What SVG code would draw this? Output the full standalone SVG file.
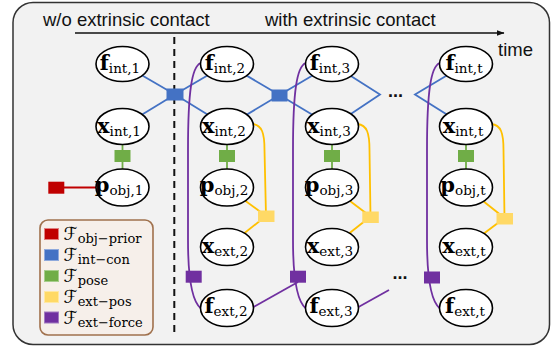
<svg xmlns="http://www.w3.org/2000/svg" width="553" height="349" viewBox="0 0 553 349">
  <defs>
    <marker id="arrowhead" viewBox="0 0 8 6" refX="7.5" refY="3" markerWidth="8" markerHeight="6" markerUnits="userSpaceOnUse" orient="auto">
      <path d="M0,0 L8,3 L0,6 Z" fill="#111"/>
    </marker>
  </defs>
  <style>
    .frame { fill: #f2f2f2; stroke: #333; stroke-width: 1.5; }
    .title { font-family: "Liberation Sans", Arial, sans-serif; font-size: 18.5px; fill: #111; }
    .dots { font-family: "Liberation Sans", Arial, sans-serif; font-size: 18px; font-weight: bold; fill: #111; text-anchor: middle; }
    .var ellipse { fill: #fff; stroke: #000; stroke-width: 1.6; }
    .lbl { font-family: "DejaVu Serif", "Liberation Serif", serif; text-anchor: middle; fill: #000; }
    .v { font-weight: bold; font-size: 21px; }
    .s { font-size: 13.5px; }
    .e-blue { stroke: #4472c4; stroke-width: 1.8; fill: none; }
    .e-green { stroke: #70ad47; stroke-width: 1.8; fill: none; }
    .e-red { stroke: #c00000; stroke-width: 1.8; fill: none; }
    .e-yellow { stroke: #ffc000; stroke-width: 1.8; fill: none; }
    .e-purple { stroke: #7030a0; stroke-width: 1.8; fill: none; }
    .f-blue { fill: #4472c4; }
    .f-green { fill: #70ad47; }
    .f-red { fill: #c00000; }
    .f-yellow { fill: #ffd966; }
    .f-purple { fill: #7030a0; }
    .legend-box { fill: #f6efea; stroke: #a0714d; stroke-width: 1.6; }
    .legend-sq { stroke-width: 1; }
    .legend-F { font-family: "DejaVu Serif", "DejaVu Sans", serif; font-size: 18px; fill: #000; }
    .legend-s { font-family: "DejaVu Serif", serif; font-size: 13px; }
  </style>

  <!-- outer panel -->
  <rect class="frame" x="13" y="2.5" width="536.5" height="342" rx="20" ry="20"/>

  <!-- headings and time axis -->
  <text class="title" x="43" y="26">w/o extrinsic contact</text>
  <text class="title" x="265" y="26">with extrinsic contact</text>
  <line x1="75" y1="33" x2="504" y2="33" stroke="#111" stroke-width="1.4" marker-end="url(#arrowhead)"/>
  <text class="title" x="498" y="56">time</text>

  <!-- boundary between phases -->
  <line x1="174.3" y1="37" x2="174.3" y2="334" stroke="#111" stroke-width="2" stroke-dasharray="7,5"/>

  <!-- connectors -->
  <g id="connectors">
    <!-- interaction consistency -->
    <line class="e-blue" x1="122.5" y1="64" x2="175" y2="94.5"/>
    <line class="e-blue" x1="122.5" y1="126.5" x2="175" y2="94.5"/>
    <line class="e-blue" x1="175" y1="94.5" x2="227" y2="64"/>
    <line class="e-blue" x1="175" y1="94.5" x2="227" y2="126.5"/>
    <line class="e-blue" x1="227" y1="64" x2="279.5" y2="95"/>
    <line class="e-blue" x1="227" y1="126.5" x2="279.5" y2="95"/>
    <line class="e-blue" x1="279.5" y1="95" x2="332" y2="64"/>
    <line class="e-blue" x1="279.5" y1="95" x2="332" y2="126.5"/>
    <polyline class="e-blue" points="332,64 380,94.5 332,126.5"/>
    <polyline class="e-blue" points="466,64 415,94.5 466,126.5"/>

    <!-- pose -->
    <line class="e-green" x1="122.5" y1="126.5" x2="122.5" y2="187.5"/>
    <line class="e-green" x1="227" y1="126.5" x2="227" y2="187.5"/>
    <line class="e-green" x1="332" y1="126.5" x2="332" y2="187.5"/>
    <line class="e-green" x1="466" y1="126.5" x2="466" y2="187.5"/>

    <!-- object prior -->
    <line class="e-red" x1="56" y1="187.5" x2="122.5" y2="187.5"/>

    <!-- extrinsic position -->
    <path class="e-yellow" d="M252.5,124 C262,125 264.5,133 264.5,150 L266,216"/>
    <line class="e-yellow" x1="227" y1="187.5" x2="266" y2="216"/>
    <line class="e-yellow" x1="227" y1="247" x2="266" y2="216"/>
    <path class="e-yellow" d="M357.5,124 C367,125 369.5,133 369.5,150 L370.5,216.5"/>
    <line class="e-yellow" x1="332" y1="187.5" x2="370.5" y2="216.5"/>
    <line class="e-yellow" x1="332" y1="247" x2="370.5" y2="216.5"/>
    <path class="e-yellow" d="M491.5,124 C501,125 503.5,133 503.5,150 L504.5,218"/>
    <line class="e-yellow" x1="466" y1="187.5" x2="504.5" y2="218"/>
    <line class="e-yellow" x1="466" y1="247" x2="504.5" y2="218"/>

    <!-- extrinsic force -->
    <path class="e-purple" d="M200.5,63 C192,67 188,90 188,150 L188,240 C188,275 191,300 200.5,308"/>
    <path class="e-purple" d="M305.5,63 C297,67 293,90 293,150 L293,240 C293,275 296,300 305.5,308"/>
    <path class="e-purple" d="M439.5,63 C431,67 427,90 427,150 L427,240 C427,275 430,300 439.5,308"/>
    <line class="e-purple" x1="253.5" y1="307" x2="298" y2="282"/>
    <line class="e-purple" x1="358.5" y1="307" x2="389" y2="290"/>
  </g>

  <!-- continuation marks -->
  <text class="dots" x="395.5" y="97">...</text>
  <text class="dots" x="400" y="278.5">...</text>

  <!-- factor nodes -->
  <g id="fac-intcon-12"><rect class="f-blue" x="166.5" y="88.5" width="17" height="12"/></g>
  <g id="fac-intcon-23"><rect class="f-blue" x="271.5" y="89.5" width="16" height="12"/></g>
  <g id="fac-pose-1"><rect class="f-green" x="114.5" y="150" width="16" height="12"/></g>
  <g id="fac-pose-2"><rect class="f-green" x="219" y="150" width="16" height="12"/></g>
  <g id="fac-pose-3"><rect class="f-green" x="324" y="150" width="16" height="12"/></g>
  <g id="fac-pose-t"><rect class="f-green" x="458" y="150" width="16" height="12"/></g>
  <g id="fac-objprior-1"><rect class="f-red" x="48.3" y="181.7" width="16" height="12"/></g>
  <g id="fac-extpos-2"><rect class="f-yellow" x="258" y="210.5" width="16.5" height="11.5"/></g>
  <g id="fac-extpos-3"><rect class="f-yellow" x="362.3" y="211.5" width="16.5" height="11.5"/></g>
  <g id="fac-extpos-t"><rect class="f-yellow" x="496.5" y="213" width="16.5" height="11.5"/></g>
  <g id="fac-extforce-2"><rect class="f-purple" x="185.7" y="270.7" width="16" height="12"/></g>
  <g id="fac-extforce-3"><rect class="f-purple" x="290" y="270.7" width="16" height="12"/></g>
  <g id="fac-extforce-t"><rect class="f-purple" x="424" y="271.5" width="16" height="12"/></g>

  <!-- variable nodes: column 1 -->
  <g id="f-int-1" class="var"><ellipse cx="122.5" cy="64" rx="26.5" ry="17.5"/>
    <text class="lbl" x="120" y="70"><tspan class="v">f</tspan><tspan class="s" dy="3">int,1</tspan></text></g>
  <g id="x-int-1" class="var"><ellipse cx="122.5" cy="126.5" rx="26.5" ry="18"/>
    <text class="lbl" x="119" y="133"><tspan class="v">x</tspan><tspan class="s" dy="3">int,1</tspan></text></g>
  <g id="p-obj-1" class="var"><ellipse cx="122.5" cy="187.5" rx="26.5" ry="18.5"/>
    <text class="lbl" x="119" y="192"><tspan class="v">p</tspan><tspan class="s" dy="3">obj,1</tspan></text></g>

  <!-- column 2 -->
  <g id="f-int-2" class="var"><ellipse cx="227" cy="64" rx="26.5" ry="17.5"/>
    <text class="lbl" x="225" y="70"><tspan class="v">f</tspan><tspan class="s" dy="3">int,2</tspan></text></g>
  <g id="x-int-2" class="var"><ellipse cx="227" cy="126.5" rx="26.5" ry="18"/>
    <text class="lbl" x="224" y="133"><tspan class="v">x</tspan><tspan class="s" dy="3">int,2</tspan></text></g>
  <g id="p-obj-2" class="var"><ellipse cx="227" cy="187.5" rx="26.5" ry="18.5"/>
    <text class="lbl" x="224" y="192"><tspan class="v">p</tspan><tspan class="s" dy="3">obj,2</tspan></text></g>
  <g id="x-ext-2" class="var"><ellipse cx="227" cy="247" rx="26.5" ry="18.5"/>
    <text class="lbl" x="225" y="253"><tspan class="v">x</tspan><tspan class="s" dy="3">ext,2</tspan></text></g>
  <g id="f-ext-2" class="var"><ellipse cx="227" cy="308" rx="26.5" ry="18.5"/>
    <text class="lbl" x="226" y="313"><tspan class="v">f</tspan><tspan class="s" dy="3">ext,2</tspan></text></g>

  <!-- column 3 -->
  <g id="f-int-3" class="var"><ellipse cx="332" cy="64" rx="26.5" ry="17.5"/>
    <text class="lbl" x="330" y="70"><tspan class="v">f</tspan><tspan class="s" dy="3">int,3</tspan></text></g>
  <g id="x-int-3" class="var"><ellipse cx="332" cy="126.5" rx="26.5" ry="18"/>
    <text class="lbl" x="329" y="133"><tspan class="v">x</tspan><tspan class="s" dy="3">int,3</tspan></text></g>
  <g id="p-obj-3" class="var"><ellipse cx="332" cy="187.5" rx="26.5" ry="18.5"/>
    <text class="lbl" x="329" y="192"><tspan class="v">p</tspan><tspan class="s" dy="3">obj,3</tspan></text></g>
  <g id="x-ext-3" class="var"><ellipse cx="332" cy="247" rx="26.5" ry="18.5"/>
    <text class="lbl" x="330" y="253"><tspan class="v">x</tspan><tspan class="s" dy="3">ext,3</tspan></text></g>
  <g id="f-ext-3" class="var"><ellipse cx="332" cy="308" rx="26.5" ry="18.5"/>
    <text class="lbl" x="331" y="313"><tspan class="v">f</tspan><tspan class="s" dy="3">ext,3</tspan></text></g>

  <!-- column t -->
  <g id="f-int-t" class="var"><ellipse cx="466" cy="64" rx="26.5" ry="17.5"/>
    <text class="lbl" x="464" y="70"><tspan class="v">f</tspan><tspan class="s" dy="3">int,t</tspan></text></g>
  <g id="x-int-t" class="var"><ellipse cx="466" cy="126.5" rx="26.5" ry="18"/>
    <text class="lbl" x="463" y="133"><tspan class="v">x</tspan><tspan class="s" dy="3">int,t</tspan></text></g>
  <g id="p-obj-t" class="var"><ellipse cx="466" cy="187.5" rx="26.5" ry="18.5"/>
    <text class="lbl" x="463" y="192"><tspan class="v">p</tspan><tspan class="s" dy="3">obj,t</tspan></text></g>
  <g id="x-ext-t" class="var"><ellipse cx="466" cy="247" rx="26.5" ry="18.5"/>
    <text class="lbl" x="464" y="253"><tspan class="v">x</tspan><tspan class="s" dy="3">ext,t</tspan></text></g>
  <g id="f-ext-t" class="var"><ellipse cx="466" cy="308" rx="26.5" ry="18.5"/>
    <text class="lbl" x="465" y="313"><tspan class="v">f</tspan><tspan class="s" dy="3">ext,t</tspan></text></g>

  <!-- legend -->
  <g id="legend">
    <rect class="legend-box" x="40" y="220" width="113" height="115" rx="8" ry="8"/>
    <rect class="legend-sq f-red" stroke="#e08080" x="44.5" y="228.5" width="14" height="11"/>
    <rect class="legend-sq f-blue" stroke="#8fa9dc" x="44.5" y="249.5" width="14" height="11"/>
    <rect class="legend-sq f-green" stroke="#a6cd8c" x="44.5" y="270.5" width="14" height="11"/>
    <rect class="legend-sq f-yellow" stroke="#ffe8a3" x="44.5" y="291.5" width="14" height="11"/>
    <rect class="legend-sq f-purple" stroke="#a27ac0" x="44.5" y="312" width="14" height="11"/>
    <text class="legend-F" x="63.5" y="240">ℱ<tspan class="legend-s" dy="3">obj−prior</tspan></text>
    <text class="legend-F" x="63.5" y="261">ℱ<tspan class="legend-s" dy="3">int−con</tspan></text>
    <text class="legend-F" x="63.5" y="282">ℱ<tspan class="legend-s" dy="3">pose</tspan></text>
    <text class="legend-F" x="63.5" y="303">ℱ<tspan class="legend-s" dy="3">ext−pos</tspan></text>
    <text class="legend-F" x="63.5" y="323.5">ℱ<tspan class="legend-s" dy="3">ext−force</tspan></text>
  </g>
</svg>
